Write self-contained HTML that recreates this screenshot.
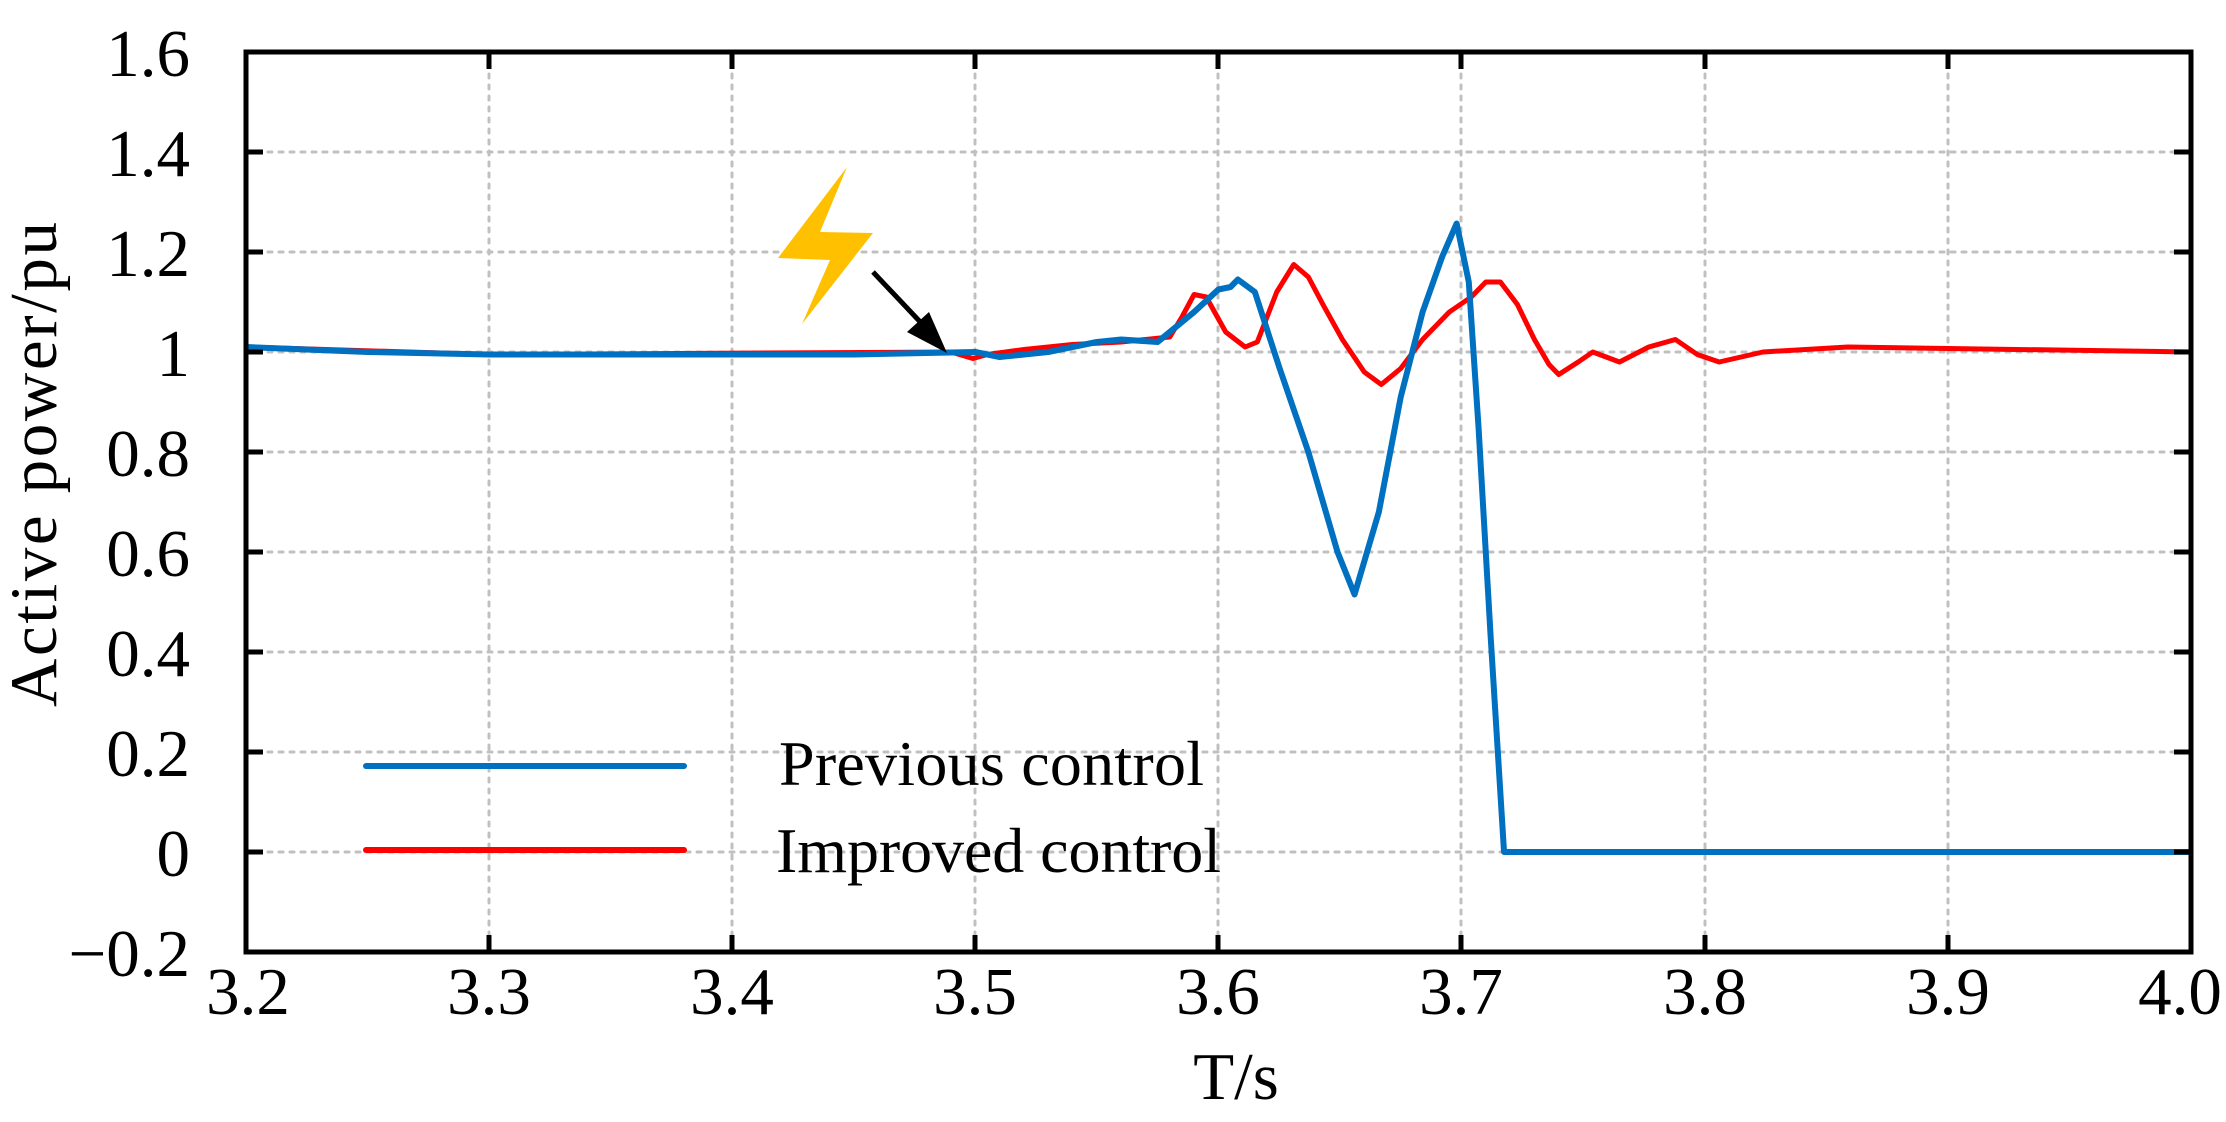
<!DOCTYPE html>
<html><head><meta charset="utf-8"><style>
html,body{margin:0;padding:0;background:#fff;}
svg{display:block;}
text{font-family:"Liberation Serif",serif;fill:#000;}
</style></head><body>
<svg width="2226" height="1122" viewBox="0 0 2226 1122">
<rect width="2226" height="1122" fill="#fff"/>
<g stroke="#c0c0c0" stroke-width="3" stroke-dasharray="4 7" stroke-linecap="round">
<line x1="489" y1="52" x2="489" y2="952"/><line x1="732" y1="52" x2="732" y2="952"/>
<line x1="975" y1="52" x2="975" y2="952"/><line x1="1218" y1="52" x2="1218" y2="952"/>
<line x1="1461" y1="52" x2="1461" y2="952"/><line x1="1705" y1="52" x2="1705" y2="952"/>
<line x1="1948" y1="52" x2="1948" y2="952"/>
<line x1="246" y1="152" x2="2191" y2="152"/><line x1="246" y1="252" x2="2191" y2="252"/>
<line x1="246" y1="352" x2="2191" y2="352"/><line x1="246" y1="452" x2="2191" y2="452"/>
<line x1="246" y1="552" x2="2191" y2="552"/><line x1="246" y1="652" x2="2191" y2="652"/>
<line x1="246" y1="752" x2="2191" y2="752"/><line x1="246" y1="852" x2="2191" y2="852"/>
</g>
<g transform="translate(246,852) scale(2431,-500)" fill="none" stroke-linejoin="round">
<polyline vector-effect="non-scaling-stroke" stroke="#ff0000" stroke-width="5" points="0,1.01 0.1,0.995 0.29,1.0 0.299,0.987 0.305,0.995 0.32,1.005 0.34,1.015 0.36,1.02 0.38,1.03 0.385,1.07 0.39,1.115 0.395,1.11 0.403,1.04 0.411,1.01 0.416,1.02 0.424,1.12 0.431,1.175 0.437,1.15 0.443,1.095 0.451,1.025 0.46,0.96 0.467,0.935 0.475,0.967 0.484,1.025 0.495,1.08 0.504,1.11 0.51,1.14 0.516,1.14 0.523,1.095 0.53,1.025 0.536,0.975 0.54,0.955 0.548,0.98 0.554,1.0 0.565,0.98 0.577,1.01 0.588,1.025 0.597,0.995 0.606,0.98 0.624,1.0 0.659,1.01 0.8,1.0"/>
<polyline vector-effect="non-scaling-stroke" stroke="#0070c0" stroke-width="6" points="0,1.01 0.05,1.0 0.1,0.995 0.25,0.995 0.3,1.0 0.31,0.99 0.33,1.0 0.35,1.02 0.36,1.025 0.375,1.02 0.39,1.08 0.4,1.125 0.405,1.13 0.408,1.145 0.415,1.12 0.425,0.97 0.437,0.8 0.449,0.6 0.456,0.515 0.466,0.68 0.475,0.91 0.484,1.08 0.492,1.19 0.498,1.257 0.503,1.14 0.507,0.85 0.512,0.43 0.5175,0 0.8,0"/>
</g>
<polygon points="847,167 778,258 830,260 802,324 873,233 820,232" fill="#ffc000"/>
<line x1="873" y1="272" x2="925" y2="327" stroke="#000" stroke-width="5"/>
<polygon points="947,353 907,332 929,312" fill="#000"/>
<g stroke="#000" stroke-width="5">
<rect x="246" y="52" width="1945" height="900" fill="none"/>
<line x1="489" y1="952" x2="489" y2="935"/><line x1="732" y1="952" x2="732" y2="935"/>
<line x1="975" y1="952" x2="975" y2="935"/><line x1="1218" y1="952" x2="1218" y2="935"/>
<line x1="1461" y1="952" x2="1461" y2="935"/><line x1="1705" y1="952" x2="1705" y2="935"/>
<line x1="1948" y1="952" x2="1948" y2="935"/>
<line x1="489" y1="52" x2="489" y2="69"/><line x1="732" y1="52" x2="732" y2="69"/>
<line x1="975" y1="52" x2="975" y2="69"/><line x1="1218" y1="52" x2="1218" y2="69"/>
<line x1="1461" y1="52" x2="1461" y2="69"/><line x1="1705" y1="52" x2="1705" y2="69"/>
<line x1="1948" y1="52" x2="1948" y2="69"/>
<line x1="246" y1="152" x2="263" y2="152"/><line x1="246" y1="252" x2="263" y2="252"/>
<line x1="246" y1="352" x2="263" y2="352"/><line x1="246" y1="452" x2="263" y2="452"/>
<line x1="246" y1="552" x2="263" y2="552"/><line x1="246" y1="652" x2="263" y2="652"/>
<line x1="246" y1="752" x2="263" y2="752"/><line x1="246" y1="852" x2="263" y2="852"/>
<line x1="2191" y1="152" x2="2174" y2="152"/><line x1="2191" y1="252" x2="2174" y2="252"/>
<line x1="2191" y1="352" x2="2174" y2="352"/><line x1="2191" y1="452" x2="2174" y2="452"/>
<line x1="2191" y1="552" x2="2174" y2="552"/><line x1="2191" y1="652" x2="2174" y2="652"/>
<line x1="2191" y1="752" x2="2174" y2="752"/><line x1="2191" y1="852" x2="2174" y2="852"/>
</g>
<g font-size="67" text-anchor="end">
<text x="190" y="76">1.6</text><text x="190" y="176">1.4</text><text x="190" y="276">1.2</text>
<text x="190" y="376">1</text><text x="190" y="476">0.8</text><text x="190" y="576">0.6</text>
<text x="190" y="676">0.4</text><text x="190" y="776">0.2</text><text x="190" y="876">0</text>
<text x="190" y="976">−0.2</text>
</g>
<g font-size="67" text-anchor="middle">
<text x="248" y="1014">3.2</text><text x="489" y="1014">3.3</text><text x="732" y="1014">3.4</text>
<text x="975" y="1014">3.5</text><text x="1218" y="1014">3.6</text><text x="1461" y="1014">3.7</text>
<text x="1705" y="1014">3.8</text><text x="1948" y="1014">3.9</text><text x="2180" y="1014">4.0</text>
<text x="1236" y="1099">T/s</text>
</g>
<text font-size="67" transform="translate(56,707) rotate(-90)" textLength="485">Active power/pu</text>
<line x1="366" y1="766" x2="684" y2="766" stroke="#0070c0" stroke-width="6" stroke-linecap="round"/>
<line x1="366" y1="850" x2="684" y2="850" stroke="#ff0000" stroke-width="6" stroke-linecap="round"/>
<g font-size="64">
<text x="779" y="785" textLength="425">Previous control</text>
<text x="776" y="872" textLength="445">Improved control</text>
</g>
</svg>
</body></html>
